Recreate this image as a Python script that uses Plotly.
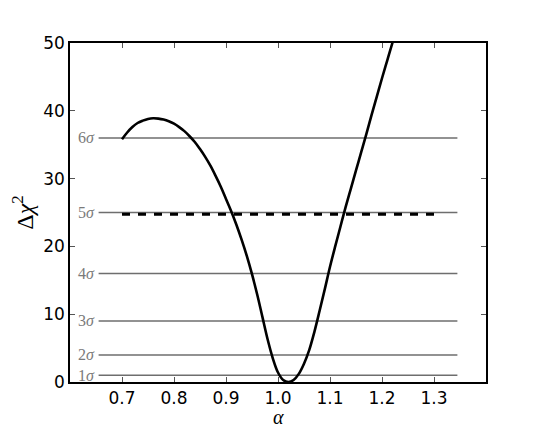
import plotly.graph_objects as go

# curve
alpha = [0.70, 0.71, 0.72, 0.73, 0.74, 0.75, 0.76, 0.77, 0.78, 0.79,
         0.80, 0.81, 0.82, 0.83, 0.84, 0.85, 0.86, 0.87, 0.88, 0.89,
         0.90, 0.91, 0.92, 0.93, 0.94, 0.95, 0.96, 0.97, 0.98, 0.99,
         1.00, 1.01, 1.02, 1.03, 1.04, 1.05, 1.06, 1.07, 1.08, 1.09,
         1.10, 1.11, 1.12, 1.13, 1.14, 1.15, 1.16, 1.17, 1.18, 1.19,
         1.20, 1.21, 1.22, 1.23]
dchi2 = [35.8, 36.8, 37.6, 38.2, 38.55, 38.8, 38.9, 38.85, 38.7, 38.45,
         38.1, 37.6, 37.0, 36.25, 35.4, 34.35, 33.2, 31.9, 30.4, 28.8,
         27.0, 25.2, 23.2, 21.0, 18.6, 15.9, 12.9, 9.6, 6.3, 3.5,
         1.4, 0.3, 0.0, 0.3, 1.2, 2.7, 4.7, 7.4, 10.5, 13.7,
         17.0, 20.0, 22.9, 25.8, 28.5, 31.2, 33.9, 36.6, 39.4, 42.1,
         44.8, 47.4, 50.0, 52.5]

sigma_levels = [1, 4, 9, 16, 25, 36]
sigma_labels = ["1", "2", "3", "4", "5", "6"]
level_span = [0.655, 1.345]

dash_y = 24.75
dash_span = [0.70, 1.30]

x_ticks = [0.7, 0.8, 0.9, 1.0, 1.1, 1.2, 1.3]
y_ticks = [0, 10, 20, 30, 40, 50]

fig = go.Figure()

for lvl in sigma_levels:
    fig.add_trace(go.Scatter(
        x=level_span, y=[lvl, lvl], mode="lines",
        line=dict(color="#6e6e6e", width=1.5), hoverinfo="skip",
    ))

fig.add_trace(go.Scatter(
    x=dash_span, y=[dash_y, dash_y], mode="lines",
    line=dict(color="black", width=3, dash="8px,8px"),
))

fig.add_trace(go.Scatter(
    x=alpha, y=dchi2, mode="lines", line_shape="spline",
    line=dict(color="black", width=2.6, smoothing=1.0),
))

for lvl, lab in zip(sigma_levels, sigma_labels):
    fig.add_annotation(
        x=0.652, y=lvl, xref="x", yref="y", text=f"{lab}<i>σ</i>",
        showarrow=False, xanchor="right", yanchor="middle",
        font=dict(family="Liberation Serif", size=16, color="#7a7a7a"),
    )

fig.add_annotation(
    x=-0.115, y=0.5, xref="paper", yref="paper", xanchor="center",
    yanchor="middle", text="Δ<i>χ</i><sup>2</sup>", textangle=-90,
    showarrow=False,
    font=dict(family="Liberation Serif", size=24, color="black"),
)

fig.add_annotation(
    x=0.5, y=-0.104, xref="paper", yref="paper", xanchor="center",
    yanchor="middle", text="<i>α</i>", showarrow=False,
    font=dict(family="Liberation Serif", size=20, color="black"),
)

axis_common = dict(
    showgrid=False, zeroline=False, showline=True, linecolor="black",
    linewidth=1.5, mirror="ticks", ticks="inside", ticklen=5,
    tickcolor="#555", tickwidth=1,
    tickfont=dict(family="DejaVu Sans", size=17, color="black"),
)

# the page adds an 8px body margin, so margins are shifted to compensate
fig.update_layout(
    width=540, height=430,
    margin=dict(l=62, r=62, t=35, b=56),
    paper_bgcolor="white", plot_bgcolor="white",
    showlegend=False,
    xaxis=dict(range=[0.6, 1.4], tickvals=x_ticks,
               ticktext=[f"{v:.1f}" for v in x_ticks], **axis_common),
    yaxis=dict(range=[0, 50], tickvals=y_ticks, **axis_common),
)

fig.write_html("out.html")
